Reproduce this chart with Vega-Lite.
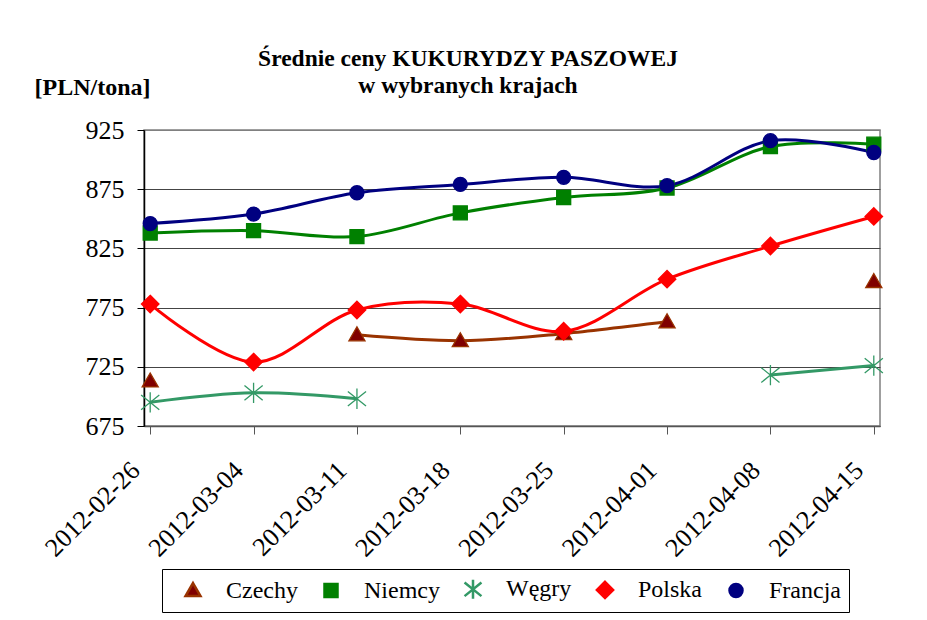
{
  "$schema": "https://vega.github.io/schema/vega-lite/v6.json",
  "width": 736,
  "height": 296,
  "autosize": "none",
  "padding": {"left": 144, "top": 130, "right": 47, "bottom": 194},
  "background": "white",
  "config": {
    "view": {"stroke": "#808080", "strokeWidth": 1.5},
    "font": "Times New Roman, Liberation Serif, DejaVu Serif, serif",
    "legend": {
      "orient": "none",
      "legendX": 18,
      "legendY": 439,
      "direction": "horizontal",
      "columns": 5,
      "strokeColor": "#000000",
      "fillColor": "#ffffff",
      "padding": 8,
      "labelFont": "Times New Roman, Liberation Serif, DejaVu Serif, serif",
      "labelFontSize": 24,
      "labelColor": "#000000",
      "symbolSize": 169,
      "symbolOffset": 11,
      "labelOffset": 21,
      "columnPadding": 10,
      "symbolStrokeWidth": 2.5
    }
  },
  "title": {
    "text": ["Średnie ceny KUKURYDZY PASZOWEJ", "w wybranych krajach"],
    "font": "serif",
    "fontSize": 23.5,
    "fontWeight": "bold",
    "color": "#000000",
    "anchor": "middle",
    "dx": -44,
    "lineHeight": 27,
    "offset": -22
  },
  "data": {
    "values": [
      {"date": "2012-02-26", "country": "Czechy", "price": 713},
      {"date": "2012-03-04", "country": "Czechy", "price": null},
      {"date": "2012-03-11", "country": "Czechy", "price": 752},
      {"date": "2012-03-18", "country": "Czechy", "price": 747},
      {"date": "2012-03-25", "country": "Czechy", "price": 753},
      {"date": "2012-04-01", "country": "Czechy", "price": 763},
      {"date": "2012-04-08", "country": "Czechy", "price": null},
      {"date": "2012-04-15", "country": "Czechy", "price": 797},
      {"date": "2012-02-26", "country": "Niemcy", "price": 838},
      {"date": "2012-03-04", "country": "Niemcy", "price": 840},
      {"date": "2012-03-11", "country": "Niemcy", "price": 835},
      {"date": "2012-03-18", "country": "Niemcy", "price": 855},
      {"date": "2012-03-25", "country": "Niemcy", "price": 868},
      {"date": "2012-04-01", "country": "Niemcy", "price": 876},
      {"date": "2012-04-08", "country": "Niemcy", "price": 911},
      {"date": "2012-04-15", "country": "Niemcy", "price": 913},
      {"date": "2012-02-26", "country": "Węgry", "price": 695},
      {"date": "2012-03-04", "country": "Węgry", "price": 703},
      {"date": "2012-03-11", "country": "Węgry", "price": 698},
      {"date": "2012-03-18", "country": "Węgry", "price": null},
      {"date": "2012-03-25", "country": "Węgry", "price": null},
      {"date": "2012-04-01", "country": "Węgry", "price": null},
      {"date": "2012-04-08", "country": "Węgry", "price": 718},
      {"date": "2012-04-15", "country": "Węgry", "price": 726},
      {"date": "2012-02-26", "country": "Polska", "price": 778},
      {"date": "2012-03-04", "country": "Polska", "price": 729},
      {"date": "2012-03-11", "country": "Polska", "price": 773},
      {"date": "2012-03-18", "country": "Polska", "price": 778},
      {"date": "2012-03-25", "country": "Polska", "price": 755},
      {"date": "2012-04-01", "country": "Polska", "price": 799},
      {"date": "2012-04-08", "country": "Polska", "price": 827},
      {"date": "2012-04-15", "country": "Polska", "price": 852},
      {"date": "2012-02-26", "country": "Francja", "price": 846},
      {"date": "2012-03-04", "country": "Francja", "price": 854},
      {"date": "2012-03-11", "country": "Francja", "price": 872},
      {"date": "2012-03-18", "country": "Francja", "price": 879},
      {"date": "2012-03-25", "country": "Francja", "price": 885},
      {"date": "2012-04-01", "country": "Francja", "price": 878},
      {"date": "2012-04-08", "country": "Francja", "price": 916},
      {"date": "2012-04-15", "country": "Francja", "price": 906}
    ]
  },
  "encoding": {
    "x": {
      "field": "date",
      "type": "ordinal",
      "sort": null,
      "scale": {"type": "point", "padding": 0.06},
      "axis": {
        "title": null,
        "labelAngle": -45,
        "labelAlign": "right",
        "labelBaseline": "middle",
        "labelFont": "Times New Roman, Liberation Serif, DejaVu Serif, serif",
        "labelFontSize": 26,
        "labelColor": "#000000",
        "labelPadding": 32,
        "labelOffset": -15,
        "labelOverlap": false,
        "labelBound": false,
        "tickSize": 8,
        "tickColor": "#555555",
        "domainColor": "#555555",
        "domainWidth": 1.5,
        "grid": false
      }
    },
    "y": {
      "field": "price",
      "type": "quantitative",
      "scale": {"domain": [675, 925], "nice": false, "zero": false},
      "axis": {
        "title": "[PLN/tona]",
        "titleAngle": 0,
        "titleAlign": "left",
        "titleBaseline": "alphabetic",
        "titleX": -110,
        "titleY": -36,
        "titleFont": "serif",
        "titleFontSize": 24,
        "titleFontWeight": "bold",
        "titleColor": "#000000",
        "values": [675, 725, 775, 825, 875, 925],
        "labelFont": "Times New Roman, Liberation Serif, DejaVu Serif, serif",
        "labelFontSize": 26,
        "labelColor": "#000000",
        "labelPadding": 13,
        "tickSize": 7,
        "tickColor": "#000000",
        "domainColor": "#000000",
        "domainWidth": 1.5,
        "grid": true,
        "gridColor": {"condition": {"test": "datum.value === 925", "value": "#808080"}, "value": "#444444"},
        "gridWidth": 1
      }
    }
  },
  "layer": [
    {
      "mark": {"type": "line", "interpolate": "catmull-rom", "strokeWidth": 3},
      "encoding": {
        "stroke": {
          "field": "country",
          "type": "nominal",
          "scale": {
            "domain": ["Czechy", "Niemcy", "Węgry", "Polska", "Francja"],
            "range": ["#993300", "#008000", "#339966", "#ff0000", "#000080"]
          },
          "legend": {"title": null}
        }
      }
    },
    {
      "transform": [{"filter": "datum.price != null"}],
      "mark": {"type": "point", "filled": true, "size": 196, "strokeWidth": 1.3, "opacity": 1},
      "encoding": {
        "fill": {
          "field": "country",
          "type": "nominal",
          "scale": {
            "domain": ["Czechy", "Niemcy", "Węgry", "Polska", "Francja"],
            "range": ["#800000", "#008000", "#339966", "#ff0000", "#000080"]
          },
          "legend": {"title": null}
        },
        "shape": {
          "field": "country",
          "type": "nominal",
          "scale": {
            "domain": ["Czechy", "Niemcy", "Węgry", "Polska", "Francja"],
            "range": [
              "M0,-1.15L1.15,0.85L-1.15,0.85Z",
              "square",
              "M0,-1.45L0,1.45M-1.3,-1.05L1.3,1.05M-1.3,1.05L1.3,-1.05",
              "M0,-1.25L1.25,0L0,1.25L-1.25,0Z",
              "circle"
            ]
          },
          "legend": {"title": null}
        },
        "stroke": {"field": "country", "type": "nominal", "legend": {"title": null}}
      }
    }
  ]
}
